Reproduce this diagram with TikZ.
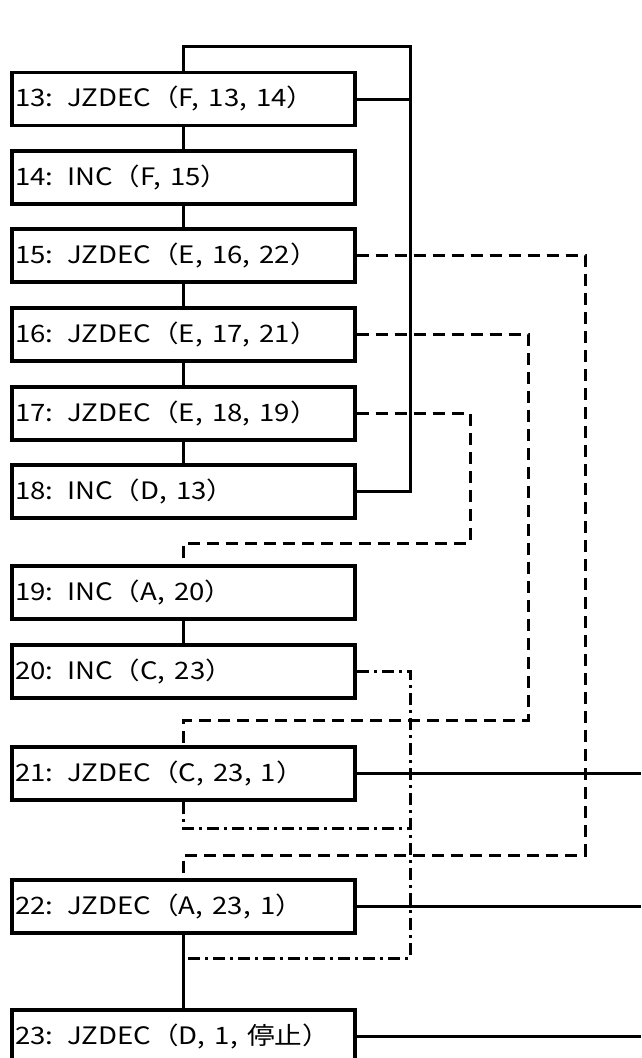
\documentclass[tikz,border=0pt]{standalone}
\usepackage{fontspec}
\newfontfamily\jp{Noto Sans CJK JP}
\begin{document}
\begin{tikzpicture}[x=1pt,y=-1pt,
  box/.style={draw, line width=3.2pt, minimum width=343pt, minimum height=53pt,
    inner sep=0pt, text width=337pt, align=left,
    font=\jp\fontsize{24}{24}\selectfont},
  conn/.style={line width=3pt},
  dsh/.style={line width=3pt, dash pattern=on 12pt off 7pt},
  ddot/.style={line width=3pt, dash pattern=on 12pt off 5pt on 3pt off 5pt}]
\useasboundingbox (0,0) rectangle (641,1058);
\clip (0,0) rectangle (641,1058);
\newcommand\lbl[1]{\hspace*{0pt}\raisebox{-2pt}{\scalebox{1.15}[1]{#1}}}
\node[box] (b13) at (183.5,99)   {\lbl{13: JZDEC（F, 13, 14）}};
\node[box] (b14) at (183.5,177.5){\lbl{14: INC（F, 15）}};
\node[box] (b15) at (183.5,255.5){\lbl{15: JZDEC（E, 16, 22）}};
\node[box] (b16) at (183.5,334.5){\lbl{16: JZDEC（E, 17, 21）}};
\node[box] (b17) at (183.5,413.5){\lbl{17: JZDEC（E, 18, 19）}};
\node[box] (b18) at (183.5,491.5){\lbl{18: INC（D, 13）}};
\node[box] (b19) at (183.5,592.5){\lbl{19: INC（A, 20）}};
\node[box] (b20) at (183.5,671.5){\lbl{20: INC（C, 23）}};
\node[box] (b21) at (183.5,773.5){\lbl{21: JZDEC（C, 23, 1）}};
\node[box] (b22) at (183.5,906.5){\lbl{22: JZDEC（A, 23, 1）}};
\node[box] (b23) at (183.5,1036.5){\lbl{23: JZDEC（D, 1, 停止）}};
\coordinate (loopTop) at (410,46);
\coordinate (edge) at (641,0);
\coordinate (d15) at (585,855);
\coordinate (d16) at (528,720);
\coordinate (d17) at (470,543);
\coordinate (dd20) at (410,958);
\coordinate (dd21) at (410,828);
% solid chain
\draw[conn] (b13.south) -- (b14.north);
\draw[conn] (b14.south) -- (b15.north);
\draw[conn] (b15.south) -- (b16.north);
\draw[conn] (b16.south) -- (b17.north);
\draw[conn] (b17.south) -- (b18.north);
\draw[conn] (b19.south) -- (b20.north);
\draw[conn] (b22.south) -- (b23.north);
% loop back to 13
\draw[conn] (b13.north) |- (loopTop) |- (b18.east);
\draw[conn] (b13.east) -- (b13.east -| loopTop);
% dashed jumps
\draw[dsh] (b15.east) -| (d15) -| (b22.north);
\draw[dsh] (b16.east) -| (d16) -| (b21.north);
\draw[dsh] (b17.east) -| (d17) -| (b19.north);
% dash-dot jumps to 23
\draw[ddot] (b20.east) -| (dd20) -- (dd20 -| b22.south);
\draw[ddot] (b21.south) |- (dd21);
% exits to 1
\draw[conn] (b21.east) -- (b21.east -| edge);
\draw[conn] (b22.east) -- (b22.east -| edge);
\draw[conn] (b23.east) -- (b23.east -| edge);
\end{tikzpicture}
\end{document}
